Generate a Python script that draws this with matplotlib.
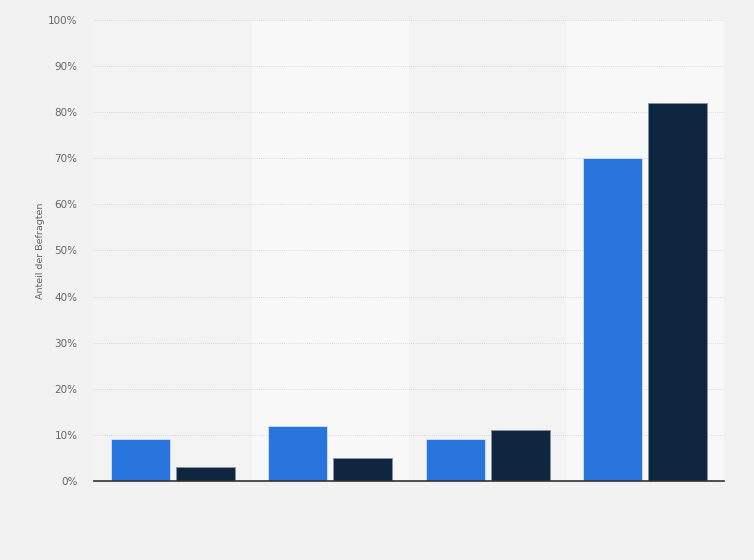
import matplotlib.pyplot as plt
import matplotlib.ticker as mticker
import numpy as np

# values (percent of respondents)
categories = ["A", "B", "C", "D"]
series_1 = [9, 12, 9, 70]
series_2 = [3, 5, 11, 82]
yticks = [0, 10, 20, 30, 40, 50, 60, 70, 80, 90, 100]

BLUE = "#2876dd"
NAVY = "#0f2640"

fig = plt.figure(figsize=(7.54, 5.6), dpi=100)
fig.patch.set_facecolor("#f2f2f2")
ax = fig.add_axes([0.1247, 0.1411, 0.8355, 0.8232])
ax.set_facecolor("#f3f3f3")

x = np.arange(len(categories))
# alternating column bands
for i in x:
    if i % 2 == 1:
        ax.axvspan(i - 0.5, i + 0.5, color="#f8f8f8", zorder=0, lw=0)

w = 0.375
off = 0.207
ax.bar(x - off, series_1, width=w, color=BLUE, edgecolor="#d6e4f7", linewidth=0.6, zorder=3)
ax.bar(x + off, series_2, width=w, color=NAVY, edgecolor="#8a96a4", linewidth=0.6, zorder=3)

ax.set_xlim(-0.5, len(categories) - 0.5)
ax.set_ylim(0, 100)
ax.set_yticks(yticks)
ax.yaxis.set_major_formatter(mticker.FuncFormatter(lambda v, _: f"{v:.0f}%"))
ax.set_xticks([])
ax.grid(axis="y", linestyle=(0, (1, 1.5)), color="#cfcfcf", linewidth=0.6, zorder=1)
ax.tick_params(axis="y", length=0, pad=12, labelsize=7.5, labelcolor="#666666")

for side in ("top", "right", "left"):
    ax.spines[side].set_visible(False)
ax.spines["bottom"].set_color("#333333")
ax.spines["bottom"].set_linewidth(1.2)
ax.spines["bottom"].set_zorder(4)

ax.set_ylabel("Anteil der Befragten", fontsize=6.8, color="#666666", labelpad=2)

fig.savefig("out.png", dpi=100, facecolor=fig.get_facecolor())
